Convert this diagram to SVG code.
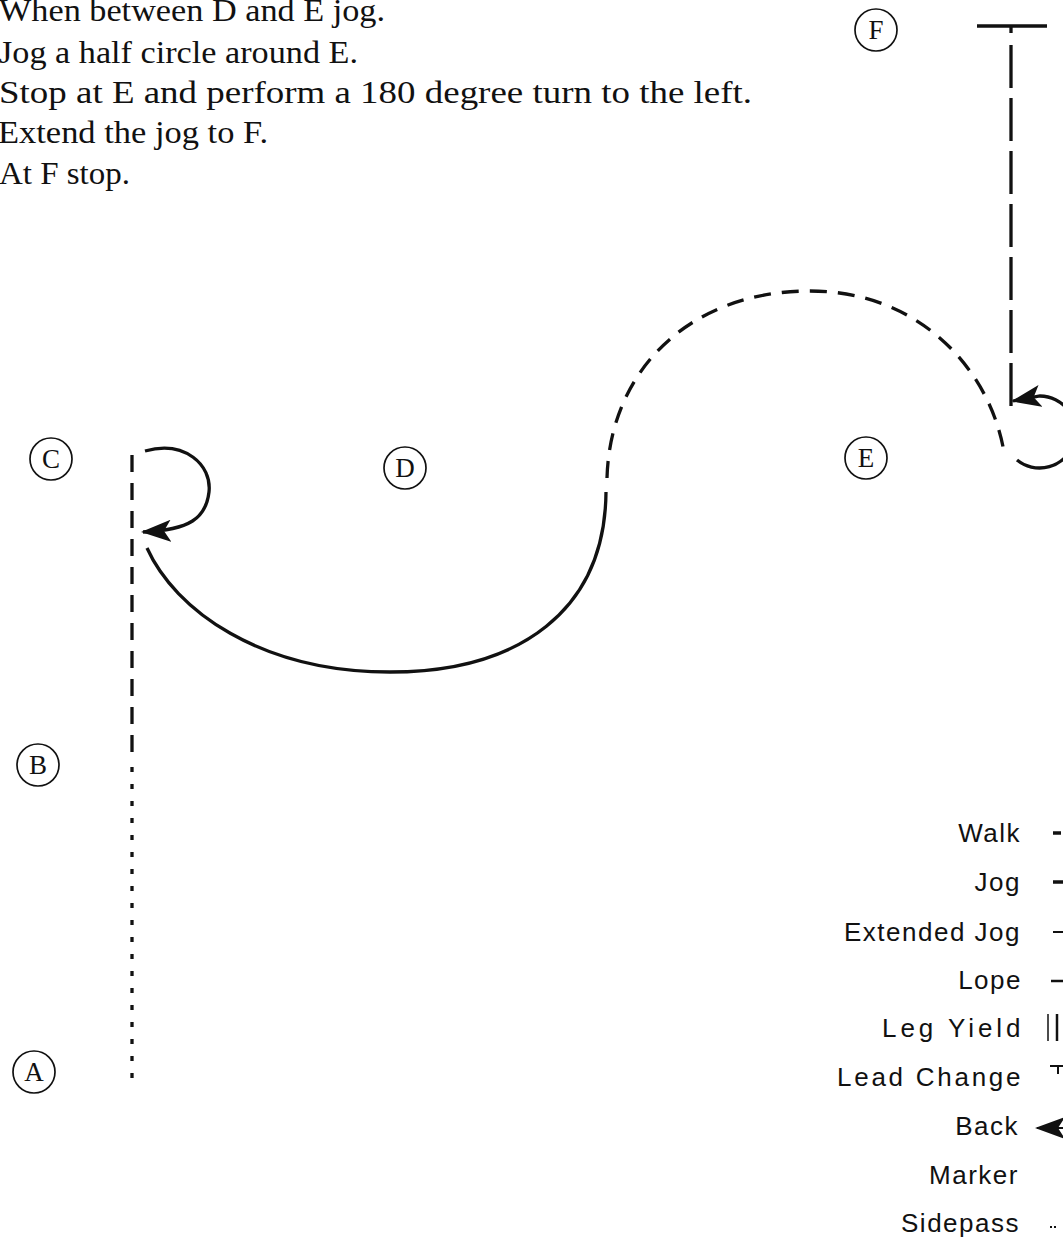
<svg xmlns="http://www.w3.org/2000/svg" width="1063" height="1244" viewBox="0 0 1063 1244">
<style>
.instr{font-family:"Liberation Serif","Times New Roman",serif;font-size:31px;fill:#111}
.mk circle{fill:none;stroke:#111;stroke-width:1.7}
.mk text{font-family:"Liberation Serif","Times New Roman",serif;font-size:27px;fill:#111;text-anchor:middle}
.leg{font-family:"Liberation Sans",Arial,sans-serif;font-size:26px;fill:#111;text-anchor:end;letter-spacing:1.5px}
.ln{fill:none;stroke:#111;stroke-width:3.3}
.walk{stroke-dasharray:5 12}
.jog{stroke-dasharray:17 11}
.ext{stroke-dasharray:43 10}
</style>
<defs>
<marker id="arrow" markerUnits="userSpaceOnUse" markerWidth="32" markerHeight="24" refX="28" refY="11" orient="auto">
<path d="M30,11 L0,0 L7,11 L0,22 Z" fill="#111"/>
</marker>
</defs>
<rect width="1063" height="1244" fill="#fff"/>

<g id="instructions" xml:space="preserve">
<text class="instr" x="-1" y="21" textLength="386" lengthAdjust="spacingAndGlyphs">When between D and E jog.</text>
<text class="instr" x="-1" y="63" textLength="359" lengthAdjust="spacingAndGlyphs">Jog a half  circle around E.</text>
<text class="instr" x="-1" y="103" textLength="753" lengthAdjust="spacingAndGlyphs">Stop at E and perform a 180 degree turn to the left.</text>
<text class="instr" x="-2" y="143" textLength="270" lengthAdjust="spacingAndGlyphs">Extend the jog to F.</text>
<text class="instr" x="-1" y="184" textLength="131" lengthAdjust="spacingAndGlyphs">At F stop.</text>
</g>

<g id="node-F" class="mk"><circle cx="876" cy="30" r="21"/><text x="876" y="39">F</text></g>
<g id="node-C" class="mk"><circle cx="51" cy="459" r="21"/><text x="51" y="468">C</text></g>
<g id="node-D" class="mk"><circle cx="405" cy="468" r="21"/><text x="405" y="477">D</text></g>
<g id="node-E" class="mk"><circle cx="866" cy="458" r="21"/><text x="866" y="467">E</text></g>
<g id="node-B" class="mk"><circle cx="38" cy="765" r="21"/><text x="38" y="774">B</text></g>
<g id="node-A" class="mk"><circle cx="34" cy="1072" r="21"/><text x="34" y="1081">A</text></g>

<g id="connectors">
<path class="ln walk" d="M132,767 V1078"/>
<path class="ln jog" d="M132,455 V762"/>
<path class="ln" d="M145,451 C185,440 212,465 209,492 C206,518 190,530 143,532" marker-end="url(#arrow)"/>
<path class="ln" d="M147,548 C175,610 260,672 390,672 C520,672 605,610 606,492"/>
<path class="ln jog" d="M607,478 C610,370 690,291 810,291 C920,291 990,370 1004,452"/>
<path class="ln" d="M1017,460 A36,36 0 1 0 1040,396 L1013,401" marker-end="url(#arrow)"/>
<path class="ln ext" d="M1011,45 V407"/>
<path class="ln" d="M977,26 H1047 M1011,26 V33"/>
</g>

<g id="legend">
<text class="leg" x="1021" y="842">Walk</text>
<text class="leg" x="1021" y="891">Jog</text>
<text class="leg" x="1021" y="941">Extended Jog</text>
<text class="leg" x="1022" y="989">Lope</text>
<text class="leg" x="1022" y="1037" textLength="140" lengthAdjust="spacing">Leg Yield</text>
<text class="leg" x="1022" y="1086" textLength="185" lengthAdjust="spacing">Lead Change</text>
<text class="leg" x="1019" y="1135">Back</text>
<text class="leg" x="1019" y="1184">Marker</text>
<text class="leg" x="1020" y="1232">Sidepass</text>
<path class="ln" style="stroke-width:3.5" d="M1053,833 H1061"/>
<path class="ln" style="stroke-width:3.5" d="M1053,882 H1064"/>
<path class="ln" style="stroke-width:2" d="M1053,932 H1064"/>
<path class="ln" style="stroke-width:2.5" d="M1051,981 H1064"/>
<path class="ln" style="stroke-width:1.5" d="M1048,1014 V1041"/>
<path class="ln" style="stroke-width:2.5" d="M1057,1014 V1041"/>
<path class="ln" style="stroke-width:2" d="M1050,1066 H1064 M1058,1066 V1074"/>
<path class="ln" style="stroke-width:2" d="M1070,1128 H1037" marker-end="url(#arrow)"/>
<path class="ln" style="stroke-width:2;stroke-dasharray:2 2" d="M1050,1227 H1058"/>
</g>
</svg>
